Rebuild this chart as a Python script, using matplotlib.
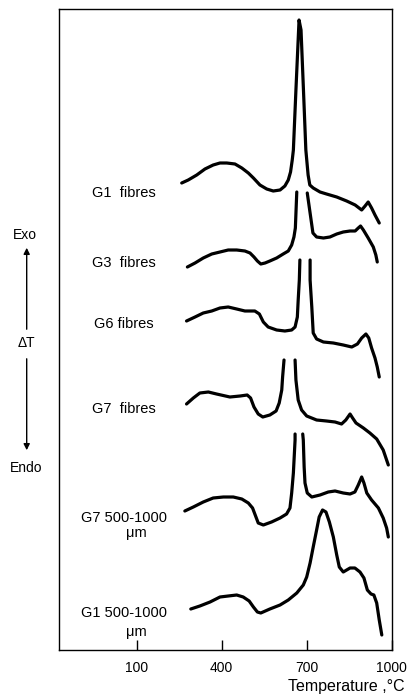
import numpy as np
import matplotlib
matplotlib.use("Agg")
import matplotlib.pyplot as plt

plt.rcParams['font.family'] = ['Liberation Sans', 'DejaVu Sans']

nan = np.nan

# Temperature (°C) and ΔT (arbitrary units, curves offset vertically); nan = off-scale gap
g1f_T = [259, 282, 312, 341, 370, 394, 418, 447, 471, 494, 512, 535, 559, 582, 606, 623, 635, 643, 649, 653, 662, 673,
         680, 690, 697, 705, 711, 723, 747, 770, 806, 841, 871, 894, 906, 917, 929, 941, 956]
g1f_dT = [467, 470, 475, 481, 485, 487, 487, 486, 482, 477, 472, 465, 461, 459, 460, 464, 470, 478, 490, 500, 560, 630,
          620, 550, 500, 475, 465, 462, 458, 456, 453, 449, 445, 440, 444, 448, 442, 435, 427]

g3f_T = [279, 306, 335, 365, 394, 423, 453, 482, 500, 514, 526, 538, 553, 570, 594, 617, 635, 647, 655, 660, 665, nan,
         702, 718, 722, 735, 759, 782, 806, 829, 853, 871, 882, 890, 900, 917, 935, 944, 949]
g3f_dT = [383, 387, 392, 396, 398, 400, 400, 399, 397, 393, 389, 386, 387, 389, 392, 396, 399, 405, 413, 422, 458, nan,
          457, 425, 417, 413, 412, 413, 416, 418, 419, 419, 422, 424, 420, 412, 403, 395, 388]

g6f_T = [276, 306, 335, 365, 394, 423, 453, 482, 517, 533, 547, 564, 594, 623, 647, 659, 667, 670, 674, 676, nan,
         712, 712, 718, 723, 735, 759, 794, 829, 859, 879, 894, 909, 919, 929, 941, 949, 956]
g6f_dT = [329, 333, 337, 339, 342, 343, 341, 339, 339, 336, 328, 323, 320, 319, 320, 323, 333, 350, 370, 390, nan,
          390, 370, 343, 317, 311, 308, 307, 305, 303, 306, 312, 316, 312, 302, 292, 283, 273]

g7f_T = [276, 300, 323, 353, 382, 429, 465, 490, 502, 514, 529, 545, 570, 592, 603, 612, 615, 620, nan,
         659, 662, 670, 682, 700, 735, 770, 800, 823, 838, 853, 862, 874, 900, 923, 947, 970, 988]
g7f_dT = [246, 252, 257, 258, 256, 253, 254, 255, 252, 243, 236, 233, 235, 239, 247, 260, 273, 290, nan,
          290, 270, 250, 240, 234, 230, 229, 228, 226, 230, 236, 232, 227, 222, 217, 211, 200, 185]

g7c_T = [270, 300, 335, 370, 406, 441, 471, 494, 509, 521, 529, 547, 576, 606, 629, 641, 647, 653, 659, 659, nan,
         686, 688, 691, 694, 702, 718, 747, 776, 800, 829, 853, 870, 882, 894, 902, 912, 929, 953, 970, 982, 988]
g7c_dT = [139, 143, 148, 152, 153, 153, 151, 147, 142, 133, 127, 125, 128, 132, 136, 142, 157, 177, 210, 216, nan,
          216, 210, 183, 167, 157, 153, 155, 158, 159, 157, 156, 158, 165, 173, 167, 157, 150, 142, 132, 122, 113]

g1c_T = [291, 323, 359, 394, 423, 453, 476, 497, 512, 526, 538, 570, 606, 635, 665, 688, 700, 712, 723, 735, 744, 756,
         768, 780, 794, 806, 815, 829, 853, 870, 888, 902, 914, 927, 937, 947, 956, 965]
g1c_dT = [41, 44, 48, 53, 54, 55, 53, 49, 43, 38, 37, 41, 45, 50, 57, 65, 73, 87, 103, 120, 133, 140,
          138, 128, 113, 95, 83, 78, 82, 82, 78, 72, 60, 56, 55, 47, 30, 15]

curves = [(g1f_T, g1f_dT), (g3f_T, g3f_dT), (g6f_T, g6f_dT),
          (g7f_T, g7f_dT), (g7c_T, g7c_dT), (g1c_T, g1c_dT)]

labels = ["G1  fibres", "G3  fibres", "G6 fibres", "G7  fibres", "G7 500-1000", "G1 500-1000"]
label_y = [457, 387, 326, 241, 132, 37]
unit_label = "μm"
unit_y = [117, 18]

xticks = [100, 400, 700, 1000]

W, H = 408, 694
fig = plt.figure(figsize=(W / 100, H / 100), dpi=100)
ax = fig.add_axes([59 / W, 44 / H, 333 / W, 641 / H])

for T, d in curves:
    ax.plot(T, d, color='black', lw=2.3, solid_capstyle='round', solid_joinstyle='round')

for lab, y in zip(labels, label_y):
    ax.text(55, y, lab, ha='center', va='center', fontsize=10.5)
for y in unit_y:
    ax.text(100, y, unit_label, ha='center', va='center', fontsize=10.5)

ax.set_xlim(-174, 1001)
ax.set_ylim(0, 641)
ax.set_yticks([])
ax.set_xticks(xticks)
ax.set_xticklabels([str(t) for t in xticks], fontsize=10)
ax.tick_params(axis='x', direction='in', length=7, width=1, pad=8)
for s in ax.spines.values():
    s.set_linewidth(1.0)

def fy(py):
    return 1 - py / H

fig.text(25 / W, fy(235), "Exo", ha='center', va='center', fontsize=10)
fig.text(26.5 / W, fy(343), "ΔT", ha='center', va='center', fontsize=10)
fig.text(26 / W, fy(468), "Endo", ha='center', va='center', fontsize=10)
fig.text(405 / W, fy(686), "Temperature ,°C", ha='right', va='center', fontsize=11.5)

ax.annotate("", xy=(26.7 / W, fy(245)), xytext=(26.7 / W, fy(332)),
            xycoords='figure fraction', textcoords='figure fraction',
            arrowprops=dict(arrowstyle='-|>', color='black', lw=1.0, mutation_scale=9))
ax.annotate("", xy=(26.7 / W, fy(453)), xytext=(26.7 / W, fy(356)),
            xycoords='figure fraction', textcoords='figure fraction',
            arrowprops=dict(arrowstyle='-|>', color='black', lw=1.0, mutation_scale=9))

fig.savefig("out.png", dpi=100)
